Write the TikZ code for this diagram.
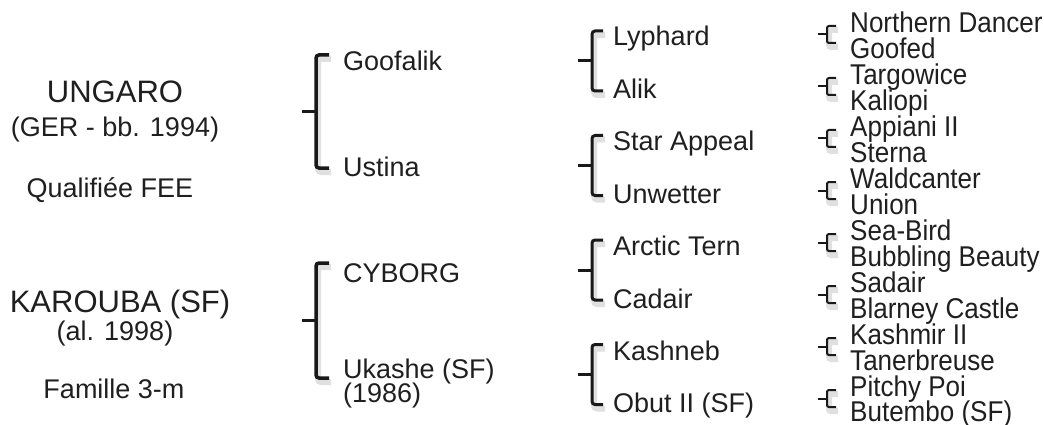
\documentclass[tikz,border=0pt]{standalone}
\usepackage{fontspec}
\setmainfont{Liberation Sans}
\newfontfamily\grandfont[FakeStretch=0.91]{Liberation Sans}
\newcommand{\pedbrace}[6]{%
\draw [#1, black!35, opacity=.35, line width=6pt, shift={(2,4)}] (#4,#5) -- (#3,#5) -- (#3,#6) -- (#4,#6);
\draw [#1] (#4,#5) -- (#3,#5) -- (#3,#6) -- (#4,#6);
\draw [#1] (#2,{(#5+#6)/2}) -- (#3,{(#5+#6)/2});}

\begin{document}
\begin{tikzpicture}[x=1pt,y=-1pt,
  title/.style={anchor=base, inner sep=0, text=black!88, font=\fontsize{31}{31}\selectfont},
  info/.style={anchor=base, inner sep=0, text=black!88, font=\fontsize{27}{27}\selectfont},
  horse/.style={anchor=base west, inner sep=0, text=black!88, font=\fontsize{27}{27}\selectfont},
  grand/.style={anchor=base west, inner sep=0, text=black!88, font=\grandfont\fontsize{28.6}{28.6}\selectfont},
  bigbrace/.style={line width=3.5pt, rounded corners=3pt, black!90},
  midbrace/.style={line width=3pt, rounded corners=3pt, black!90},
  tinybrace/.style={line width=2pt, rounded corners=2pt, black!90}]
\useasboundingbox (0,0) rectangle (1044,425);
\node [title] (ungaro) at (115,103) {UNGARO};
\node [info] (ungarobirth) at (115,137) {(GER - bb. 1994)};
\node [info] (ungaroqual) at (110,197) {Qualifiée FEE};
\node [title] (karouba) at (120,312) {KAROUBA (SF)};
\node [info] (kaboubabirth) at (115,340) {(al. 1998)};
\node [info] (karoubafam) at (114,398) {Famille 3-m};
\node [horse] (goofalik) at (343,71) {Goofalik};
\node [horse] (ustina) at (343,176) {Ustina};
\node [horse] (cyborg) at (343,282) {CYBORG};
\node [horse] (ukashe) at (343,378) {Ukashe (SF)};
\node [horse] (ukasheyear) at (343,402) {(1986)};
\pedbrace{bigbrace}{302}{316}{329}{55}{168}
\pedbrace{bigbrace}{302}{316}{329}{263}{378}
\foreach \nm [count=\i from 0] in {Lyphard,Alik,Star Appeal,Unwetter,Arctic Tern,Cadair,Kashneb,Obut II (SF)}
  \node [horse] (p\i) at (613,{46+52.4*\i}) {\nm};
\foreach \i in {0,...,3}{
  \pedbrace{midbrace}{578}{592}{603}{31+104.5*\i}{91+104.5*\i}
}
\foreach \sire/\dam [count=\i from 0] in {Northern Dancer/Goofed,Targowice/Kaliopi,Appiani II/Sterna,Waldcanter/Union,Sea-Bird/Bubbling Beauty,Sadair/Blarney Castle,Kashmir II/Tanerbreuse,Pitchy Poi/Butembo (SF)}{
  \node [grand] (gs\i) at (850,{33+51.86*\i}) {\sire};
  \node [grand] (gd\i) at (850,{58.9+51.86*\i}) {\dam};
  \pedbrace{tinybrace}{818}{827}{836}{26+52*\i}{43+52*\i}
}
\end{tikzpicture}
\end{document}
